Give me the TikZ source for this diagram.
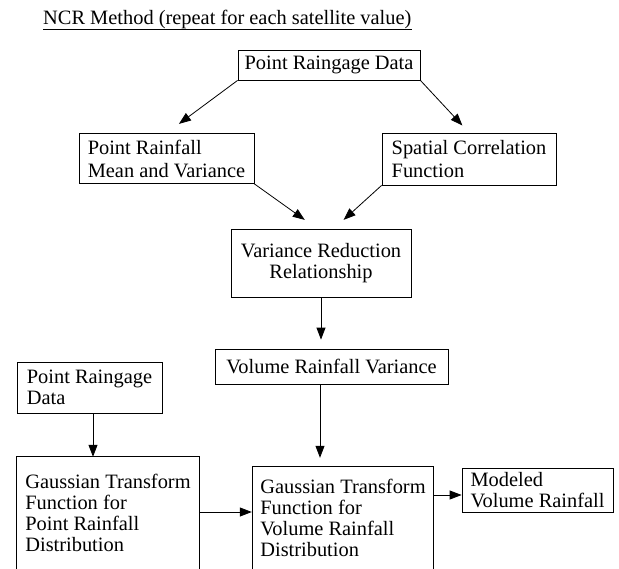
\documentclass[tikz,border=0pt]{standalone}
\usepackage{fontspec}
\setmainfont{Liberation Serif}
\usetikzlibrary{arrows.meta}
\begin{document}
\begin{tikzpicture}[x=1bp,y=-1bp,
  every node/.style={font=\fontsize{20.4bp}{21bp}\selectfont},
  wide/.style={font=\fontsize{20.4bp}{23bp}\selectfont},
  box/.style={draw,line width=0.8bp,inner sep=0pt,align=left},
  openbox/.style={draw=none,inner sep=0pt,align=left},
  cbox/.style={box,align=center},
  arr/.style={line width=0.8bp,-{Triangle[length=12bp,width=9bp]}}]
\useasboundingbox (0,0) rectangle (619,569);
% title
\node[inner sep=0pt,anchor=base west] (title) at (43,25) {NCR Method (repeat for each satellite value)};
\draw[line width=0.8bp] ([yshift=-4bp]title.base west) -- ([yshift=-4bp]title.base east);
% boxes
\node[cbox,minimum width=182bp,minimum height=30bp] (A) at (329,65) {Point Raingage Data};
\node[box,wide,minimum width=175bp,minimum height=50bp] (B) at (166.5,158.5) {Point Rainfall\\Mean and Variance};
\node[box,wide,minimum width=174bp,minimum height=52bp] (C) at (469,159) {Spatial Correlation\\Function};
\node[cbox,minimum width=180bp,minimum height=68bp] (D) at (321,263) {Variance Reduction\\Relationship};
\node[cbox,minimum width=233bp,minimum height=35bp] (E) at (331.5,366.5) {Volume Rainfall Variance};
\node[box,minimum width=145bp,minimum height=51bp] (F) at (89.5,387.5) {Point Raingage\\Data};
\node[openbox,minimum width=182bp,minimum height=112bp] (G) at (108,513) {Gaussian Transform\\Function for\\Point Rainfall\\Distribution};
\node[openbox,minimum width=180bp,minimum height=102bp] (H) at (343,518) {Gaussian Transform\\Function for\\Volume Rainfall\\Distribution};
\node[box,minimum width=151bp,minimum height=44bp] (I) at (537.5,490) {Modeled\\Volume Rainfall};
\draw[line width=0.8bp] (G.south west) -- (G.north west) -- (G.north east) -- (G.south east);
\draw[line width=0.8bp] (H.south west) -- (H.north west) -- (H.north east) -- (H.south east);
% connectors
\draw[arr,shorten >=15.5bp] (A.south west) -- (B.north);
\draw[arr,shorten >=9.7bp] (A.south east) -- (C.north);
\draw[arr,shorten >=15bp] (B.south east) -- ([xshift=-4bp]D.north);
\draw[arr,shorten >=13bp] (C.south west) -- ([xshift=13bp]D.north);
\draw[arr,shorten >=9bp] (D.south) -- (D.south |- E.north);
\draw[arr,shorten >=9bp] ([xshift=-11.5bp]E.south) -- ([xshift=-11.5bp]E.south |- H.north);
\draw[arr] ([xshift=3.5bp]F.south) -- ([xshift=3.5bp]F.south |- G.north);
\draw[arr,shorten >=1bp] ([yshift=1bp]G.east) -- ([yshift=1bp]G.east -| H.west);
\draw[arr] ([yshift=-5bp]I.west -| H.east) -- ([yshift=-5bp]I.west);
\end{tikzpicture}
\end{document}
